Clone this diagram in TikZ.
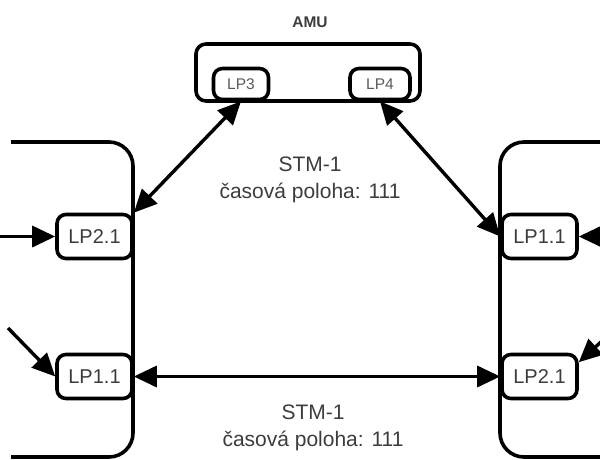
\documentclass[tikz,border=0pt]{standalone}
\usepackage{fontspec}
\setmainfont{Liberation Sans}
\usetikzlibrary{arrows.meta}

\definecolor{txtgray}{HTML}{3C3C3C}
\definecolor{lightgray}{HTML}{5A5A5A}

\begin{document}
\begin{tikzpicture}[x=1pt, y=-1pt, line width=3.6pt,
		lpbox/.style={draw, rounded corners=9pt, minimum width=75pt, minimum height=44pt, inner sep=0pt, text=txtgray, font=\fontsize{20}{20}\selectfont, fill=white},
		amubox/.style={draw, rounded corners=9pt, minimum width=55pt, minimum height=31pt, inner sep=0pt, text=lightgray, font=\fontsize{15.5}{15.5}\selectfont, fill=white},
		link/.style={{Triangle[length=23pt, width=21pt]}-{Triangle[length=23pt, width=21pt]}, line width=3.4pt},
		feed/.style={-{Triangle[length=23pt, width=21pt]}, line width=3.4pt},
		stm/.style={align=center, text=txtgray, font=\fontsize{21}{27}\selectfont}]
		%%%%% START %%%%%
		
		\useasboundingbox (0, 0) rectangle (600, 459);
		
		% AMU
		\node[font=\bfseries\fontsize{15.5}{15.5}\selectfont, text=txtgray] (amulbl) at (310, 22) {AMU};
		\draw[rounded corners=10pt] (196, 44) rectangle (420, 101);
		\node[amubox] (lp3) at (241, 84) {LP3};
		\node[amubox, minimum width=60pt] (lp4) at (380, 84) {LP4};
		
		% left and right ends
		\draw[rounded corners=24pt] (11, 142) -| (133, 457) -- (11, 457);
		\draw[rounded corners=24pt] (610, 142) -| (500, 457) -- (610, 457);
		
		\node[lpbox] (lpL2) at (94.5, 236.5) {LP2.1};
		\node[lpbox] (lpL1) at (94.5, 376.5) {LP1.1};
		\node[lpbox] (lpR1) at (539.5, 236.5) {LP1.1};
		\node[lpbox] (lpR2) at (539.5, 376.5) {LP2.1};
		
		% links
		\draw[link] (lp3.south) -- (lpL2.north east);
		\draw[link] (lp4.south) -- (lpR1.west);
		\draw[link] (lpL1.east) -- (lpR2.west);
		
		\coordinate (inL2) at (-5, 236.5);
		\coordinate (inL1) at (8, 328);
		\coordinate (inR1) at (610, 236.5);
		\coordinate (inR2) at (625, 320);
		\draw[feed] (inL2) -- (lpL2.west);
		\draw[feed] (inL1) -- (lpL1.west);
		\draw[feed] (inR1) -- (lpR1.east);
		\draw[feed] (inR2) -- (lpR2.20);
		
		\node[stm] (stmtop) at (310, 180) {STM-1\\časová poloha: 111};
		\node[stm] (stmbot) at (313, 428) {STM-1\\časová poloha: 111};
		
		%%%%% END %%%%%
\end{tikzpicture}
\end{document}
